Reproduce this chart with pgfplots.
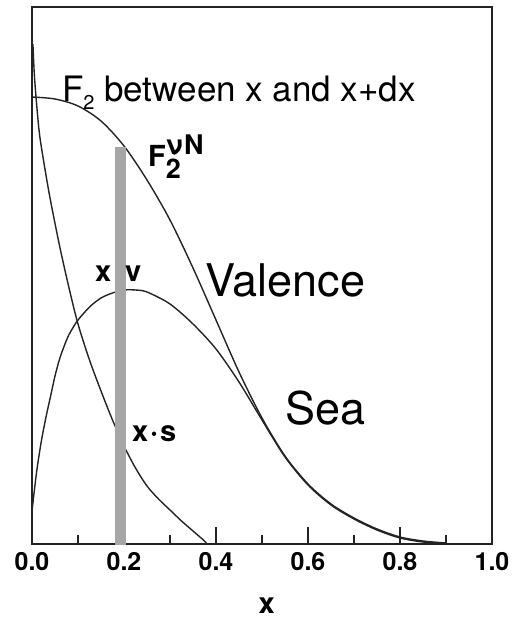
\documentclass[border=0pt]{standalone}
\usepackage{pgfplots}
\pgfplotsset{compat=1.18}
\usepackage{fontspec}
\setmainfont{TeX Gyre Heros}
\definecolor{bargray}{RGB}{166,166,166}
\definecolor{linecol}{RGB}{35,35,35}
\begin{document}
\begin{tikzpicture}
\begin{axis}[
  scale only axis, width=460pt, height=537pt,
  at={(0,0)}, anchor=south west,
  xmin=0, xmax=1, ymin=0, ymax=537,
  clip=false,
  axis line style={line width=1.2pt, linecol},
  xtick={0,0.2,0.4,0.6,0.8,1.0},
  xticklabels={0.0,0.2,0.4,0.6,0.8,1.0},
  minor xtick={0.1,0.3,0.5,0.7,0.9},
  xtick pos=left, ytick=\empty,
  tick align=inside,
  major tick length=17pt, minor tick length=9pt,
  tick style={line width=1.2pt, linecol},
  /pgf/number format/assume math mode=true,
  xticklabel style={font=\fontsize{25}{25}\selectfont\bfseries, inner sep=0pt, anchor=north, yshift=-8pt},
  xlabel={x},
  xlabel style={font=\fontsize{29}{29}\selectfont\bfseries, inner sep=0pt, at={(axis description cs:0.51,0)}, anchor=base, yshift=-69pt},
]
% F2 (total)
\addplot[smooth, line width=1.4pt, linecol] coordinates {
(0.00,447) (0.05,445) (0.10,438) (0.15,423) (0.20,398) (0.25,364)
(0.30,324) (0.35,276) (0.40,224) (0.45,172) (0.50,126) (0.55,88)
(0.60,60) (0.65,40) (0.70,26) (0.75,15) (0.80,7) (0.85,3) (0.90,1)
};
% x V (valence)
\addplot[smooth, line width=1.4pt, linecol] coordinates {
(0.00,33) (0.01,72) (0.02,102) (0.03,126) (0.04,147) (0.05,168)
(0.06,185) (0.07,198) (0.08,209) (0.09,217) (0.10,224) (0.125,237)
(0.15,246) (0.175,251) (0.20,254) (0.225,254) (0.25,252) (0.30,240)
(0.35,220) (0.40,195) (0.45,162) (0.50,124) (0.55,87) (0.60,59)
(0.65,39) (0.70,25) (0.75,14) (0.80,6) (0.85,2) (0.90,0.5)
};
% x s (sea)
\addplot[smooth, line width=1.4pt, linecol] coordinates {
(0.002,500) (0.005,470) (0.010,440) (0.015,415) (0.020,398) (0.030,370)
(0.040,344) (0.060,298) (0.080,257) (0.100,220) (0.125,184) (0.150,153)
(0.175,124) (0.200,98) (0.225,76) (0.250,58) (0.275,45) (0.300,34)
(0.325,23) (0.350,13) (0.375,3) (0.380,0)
};
% gray slice between x and x+dx
\addplot[draw=none, fill=bargray] coordinates {
(0.1804,-1) (0.2043,-1) (0.2043,397) (0.1804,397)
} -- cycle;
% labels
\node[anchor=base west, inner sep=0pt, font=\fontsize{35}{35}\selectfont] at (axis cs:0.065,442)
  {F\raisebox{-8pt}{\fontsize{20}{20}\selectfont 2} between x and x+dx};
\node[anchor=base west, inner sep=0pt, font=\fontsize{29}{29}\selectfont\bfseries] at (axis cs:0.252,377)
  {F\rlap{\raisebox{-12pt}{\fontsize{27}{27}\selectfont 2}}\raisebox{12pt}{\fontsize{27}{27}\selectfont ν\kern1.5pt N}};
\node[anchor=base west, inner sep=0pt, font=\fontsize{29}{29}\selectfont\bfseries] at (axis cs:0.137,262) {x};
\node[anchor=base west, inner sep=0pt, font=\fontsize{29}{29}\selectfont\bfseries] at (axis cs:0.202,262) {v};
\node[anchor=base west, inner sep=0pt, font=\fontsize{29}{29}\selectfont\bfseries] at (axis cs:0.217,102) {x\kern2pt·\kern2pt s};
\node[anchor=base west, inner sep=0pt, font=\fontsize{45}{45}\selectfont] at (axis cs:0.376,247) {Valence};
\node[anchor=base west, inner sep=0pt, font=\fontsize{45}{45}\selectfont] at (axis cs:0.550,119) {Sea};
\end{axis}
\pgfresetboundingbox
\path (-32pt,-74pt) rectangle (480pt,544pt);
\end{tikzpicture}
\end{document}
